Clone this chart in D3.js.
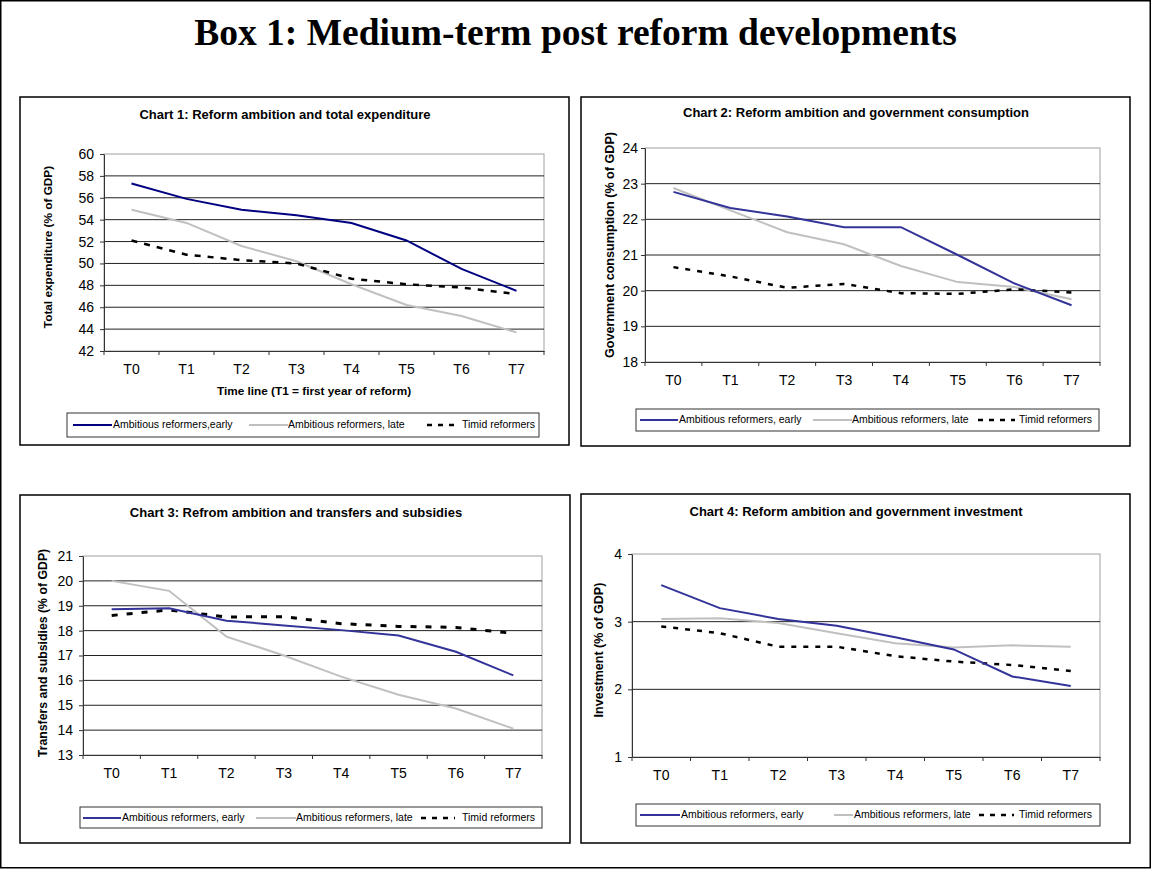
<!DOCTYPE html>
<html lang="en">
<head>
<meta charset="UTF-8">
<title>Box 1: Medium-term post reform developments</title>
<style>
    body { margin: 0; background: #fff; }
    svg text { font-family: "Liberation Sans", Arial, sans-serif; }
</style>
</head>
<body>
<script src="https://cdnjs.cloudflare.com/ajax/libs/d3/7.8.5/d3.min.js"></script>
<script>
    const width = 1151;
    const height = 870;

    // ---- data ----
    const periods = ['T0', 'T1', 'T2', 'T3', 'T4', 'T5', 'T6', 'T7'];
    const seriesNames1 = ['Ambitious reformers,early', 'Ambitious reformers, late', 'Timid reformers'];
    const seriesNames = ['Ambitious reformers, early', 'Ambitious reformers, late', 'Timid reformers'];

    const expEarly = [57.3, 55.9, 54.9, 54.4, 53.7, 52.1, 49.5, 47.5];
    const expLate = [54.9, 53.7, 51.6, 50.2, 48.1, 46.2, 45.2, 43.7];
    const expTimid = [52.1, 50.8, 50.3, 50.0, 48.6, 48.1, 47.8, 47.2];
    const expTicks = [42, 44, 46, 48, 50, 52, 54, 56, 58, 60];

    const consEarly = [22.77, 22.32, 22.08, 21.78, 21.78, 21.0, 20.2, 19.59];
    const consLate = [22.88, 22.25, 21.64, 21.3, 20.69, 20.24, 20.1, 19.76];
    const consTimid = [20.66, 20.4, 20.08, 20.19, 19.93, 19.91, 20.04, 19.95];
    const consTicks = [18, 19, 20, 21, 22, 23, 24];

    const trEarly = [18.86, 18.9, 18.4, 18.21, 18.02, 17.8, 17.15, 16.2];
    const trLate = [20.0, 19.6, 17.76, 17.0, 16.15, 15.42, 14.87, 14.06];
    const trTimid = [18.61, 18.83, 18.55, 18.56, 18.28, 18.17, 18.13, 17.89];
    const trTicks = [13, 14, 15, 16, 17, 18, 19, 20, 21];

    const invEarly = [3.54, 3.2, 3.04, 2.94, 2.77, 2.59, 2.19, 2.05];
    const invLate = [3.04, 3.05, 2.98, 2.83, 2.68, 2.62, 2.65, 2.63];
    const invTimid = [2.93, 2.83, 2.63, 2.63, 2.49, 2.41, 2.36, 2.27];
    const invTicks = [1, 2, 3, 4];

    const GRAY = '#c0c0c0';

    const charts = [
        {
            title: 'Chart 1: Reform ambition and total expenditure', titleX: 285, titleY: 116,
            panel: [20, 97, 569, 445],
            plot: {left: 104, right: 544, top: 154, bottom: 351},
            ticks: expTicks, series: [expEarly, expLate, expTimid], names: seriesNames1,
            blue: '#000080', dash: '6,7', dashWidth: 2.5, tickPad: 6,
            yLabel: 'Total expenditure (% of GDP)', yLabelX: 49, yLabelY: 247, yLabelSize: 11.8,
            xLabel: 'Time line (T1 = first year of reform)', xLabelX: 314, xLabelY: 392,
            legend: {box: [67, 413, 539, 437], lines: [[73, 112], [249, 288], [427, 458]], texts: [113, 288, 462], y: 425}
        },
        {
            title: 'Chart 2: Reform ambition and government consumption', titleX: 856, titleY: 114,
            panel: [581, 97, 1130, 446],
            plot: {left: 645, right: 1100, top: 148, bottom: 362},
            ticks: consTicks, series: [consEarly, consLate, consTimid], names: seriesNames,
            blue: '#333399', dash: '5,7', dashWidth: 2.5, tickPad: 3,
            yLabel: 'Government consumption (% of GDP)', yLabelX: 611, yLabelY: 245, yLabelSize: 12.6,
            legend: {box: [636, 409, 1099, 431], lines: [[640, 678], [813, 852], [978, 1015]], texts: [679, 852, 1019], y: 420}
        },
        {
            title: 'Chart 3: Refrom ambition and transfers and subsidies', titleX: 296, titleY: 514,
            panel: [20, 495, 570, 843],
            plot: {left: 83, right: 542, top: 556, bottom: 755},
            ticks: trTicks, series: [trEarly, trLate, trTimid], names: seriesNames,
            blue: '#333399', dash: '6,9', dashWidth: 3, tickPad: 6,
            yLabel: 'Transfers and subsidies (% of GDP)', yLabelX: 44, yLabelY: 653, yLabelSize: 12.3,
            legend: {box: [80, 807, 542, 828], lines: [[83, 121], [256, 296], [421, 455]], texts: [122, 296, 462], y: 818}
        },
        {
            title: 'Chart 4: Reform ambition and government investment', titleX: 856, titleY: 513,
            panel: [581, 494, 1130, 843],
            plot: {left: 632, right: 1100, top: 554, bottom: 757},
            ticks: invTicks, series: [invEarly, invLate, invTimid], names: seriesNames,
            blue: '#333399', dash: '5,7', dashWidth: 2.5, tickPad: 6,
            yLabel: 'Investment (% of GDP)', yLabelX: 600, yLabelY: 650, yLabelSize: 12.5,
            legend: {box: [636, 804, 1100, 826], lines: [[640, 680], [834, 853], [979, 1014]], texts: [681, 854, 1019], y: 815}
        }
    ];

    const svg = d3.select('body')
        .append('svg')
        .attr('width', width)
        .attr('height', height);

    // outer box
    svg.append('rect')
        .attr('x', 0.75).attr('y', 0.75)
        .attr('width', width - 1.5).attr('height', 867)
        .attr('fill', '#fff').attr('stroke', '#000').attr('stroke-width', 1.5);

    svg.append('text')
        .attr('x', width / 2).attr('y', 45)
        .attr('text-anchor', 'middle')
        .style('font-family', '"Liberation Serif", "Times New Roman", serif')
        .style('font-weight', 'bold')
        .style('font-size', '37.5px')
        .text('Box 1: Medium-term post reform developments');

    function drawChart(c) {
        const g = svg.append('g');
        const p = c.plot;

        g.append('rect')
            .attr('x', c.panel[0]).attr('y', c.panel[1])
            .attr('width', c.panel[2] - c.panel[0]).attr('height', c.panel[3] - c.panel[1])
            .attr('fill', '#fff').attr('stroke', '#000').attr('stroke-width', 1.5);

        g.append('text')
            .attr('x', c.titleX).attr('y', c.titleY)
            .attr('text-anchor', 'middle').attr('dominant-baseline', 'middle')
            .style('font-weight', 'bold').style('font-size', '13px')
            .text(c.title);

        const x = d3.scaleBand().domain(periods).range([p.left, p.right]).padding(0);
        const y = d3.scaleLinear()
            .domain([c.ticks[0], c.ticks[c.ticks.length - 1]])
            .range([p.bottom, p.top]);

        // plot border (top / right grey)
        g.append('rect')
            .attr('x', p.left).attr('y', p.top)
            .attr('width', p.right - p.left).attr('height', p.bottom - p.top)
            .attr('fill', 'none').attr('stroke', '#a0a0a0').attr('stroke-width', 1);

        // gridlines
        g.append('g')
            .selectAll('line')
            .data(c.ticks.slice(1, -1))
            .join('line')
            .attr('x1', p.left).attr('x2', p.right)
            .attr('y1', d => y(d)).attr('y2', d => y(d))
            .attr('stroke', '#222').attr('stroke-width', 1);

        // y axis
        const yAxis = g.append('g')
            .attr('transform', `translate(${p.left},0)`)
            .call(d3.axisLeft(y).tickValues(c.ticks).tickFormat(d3.format('d'))
                .tickSize(4).tickPadding(c.tickPad).tickSizeOuter(0));
        yAxis.selectAll('text').style('font-size', '14px').attr('fill', '#000')
            .style('font-family', '"Liberation Sans", Arial, sans-serif');
        yAxis.selectAll('line, path').attr('stroke', '#333');

        // x axis
        const xAxis = g.append('g')
            .attr('transform', `translate(0,${p.bottom})`)
            .call(d3.axisBottom(x).tickSize(0).tickPadding(13).tickSizeOuter(0));
        xAxis.selectAll('text').style('font-size', '14px').attr('fill', '#000')
            .style('font-family', '"Liberation Sans", Arial, sans-serif');
        xAxis.select('path').attr('stroke', '#333');
        xAxis.selectAll('.tickmark')
            .data(d3.range(periods.length + 1))
            .join('line')
            .attr('x1', i => p.left + i * x.step()).attr('x2', i => p.left + i * x.step())
            .attr('y1', 0).attr('y2', 4)
            .attr('stroke', '#333');

        // y label
        g.append('text')
            .attr('transform', `translate(${c.yLabelX},${c.yLabelY}) rotate(-90)`)
            .attr('text-anchor', 'middle').attr('dominant-baseline', 'middle')
            .style('font-weight', 'bold').style('font-size', c.yLabelSize + 'px')
            .text(c.yLabel);

        if (c.xLabel) {
            g.append('text')
                .attr('x', c.xLabelX).attr('y', c.xLabelY)
                .attr('text-anchor', 'middle').attr('dominant-baseline', 'middle')
                .style('font-weight', 'bold').style('font-size', '11.8px')
                .text(c.xLabel);
        }

        const styles = [
            {stroke: c.blue, width: 2, dash: null},
            {stroke: GRAY, width: 2, dash: null},
            {stroke: '#000', width: c.dashWidth, dash: c.dash}
        ];

        const line = d3.line()
            .x((d, i) => x(periods[i]) + x.bandwidth() / 2)
            .y(d => y(d));

        // late first, then timid, then early on top
        [1, 2, 0].forEach(k => {
            g.append('path')
                .datum(c.series[k])
                .attr('d', line)
                .attr('fill', 'none')
                .attr('stroke', styles[k].stroke)
                .attr('stroke-width', styles[k].width)
                .attr('stroke-dasharray', styles[k].dash);
        });

        // legend
        const L = c.legend;
        g.append('rect')
            .attr('x', L.box[0]).attr('y', L.box[1])
            .attr('width', L.box[2] - L.box[0]).attr('height', L.box[3] - L.box[1])
            .attr('fill', '#fff').attr('stroke', '#333').attr('stroke-width', 1);
        c.names.forEach((name, k) => {
            g.append('line')
                .attr('x1', L.lines[k][0]).attr('x2', L.lines[k][1])
                .attr('y1', L.y).attr('y2', L.y)
                .attr('stroke', styles[k].stroke)
                .attr('stroke-width', k === 2 ? 2.5 : 2)
                .attr('stroke-dasharray', k === 2 ? '5,6' : null);
            g.append('text')
                .attr('x', L.texts[k]).attr('y', L.y)
                .attr('dominant-baseline', 'middle')
                .style('font-size', '10.5px')
                .text(name);
        });
    }

    charts.forEach(drawChart);
</script>
</body>
</html>
